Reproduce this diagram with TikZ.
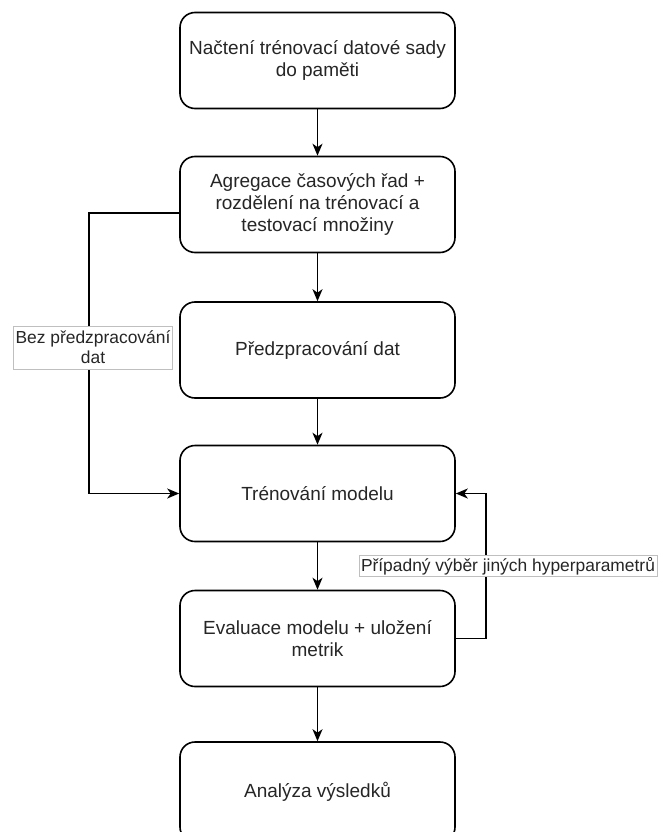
\documentclass[tikz,border=0pt]{standalone}
\usepackage{fontspec}
\setmainfont{Liberation Sans}
\usetikzlibrary{arrows.meta}
\tikzset{
  stepbox/.style={draw=black, line width=1.6pt, rounded corners=15pt, fill=white,
    minimum width=275pt, minimum height=96pt, align=center, inner sep=2pt,
    font=\fontsize{19}{22}\selectfont, text=black!85},
  conn/.style={draw=black, line width=1.6pt, -{Stealth[length=12pt,width=10pt,inset=3.5pt]}},
  lbl/.style={draw=black!25, line width=0.8pt, fill=white, align=center, inner sep=2pt,
    font=\fontsize{17.4}{20}\selectfont, text=black!85}
}
\begin{document}
\begin{tikzpicture}[x=1pt,y=-1pt]
\useasboundingbox (0,0) rectangle (661,832);
\node[stepbox] (b1) at (317.5,60.5) {Načtení trénovací datové sady\\do paměti};
\node[stepbox] (b2) at (317.5,204.5) {Agregace časových řad +\\rozdělení na trénovací a\\testovací množiny};
\node[stepbox] (b3) at (317.5,350) {Předzpracování dat};
\node[stepbox] (b4) at (317.5,493.5) {Trénování modelu};
\node[stepbox] (b5) at (317.5,638.5) {Evaluace modelu + uložení\\metrik};
\node[stepbox, minimum height=100pt] (b6) at (317.5,792) {\raisebox{3pt}{Analýza výsledků}};
\coordinate (L) at (89,493.5);
\coordinate (R) at (486,493.5);
\draw[conn] (b1) -- (b2);
\draw[conn] (b2) -- (b3);
\draw[conn] (b3) -- (b4);
\draw[conn] (b4) -- (b5);
\draw[conn] (b5) -- (b6);
\draw[conn] ([yshift=-8.5pt]b2.west) -| (L) -- (b4.west);
\draw[conn] (b5.east) -| (R) -- (b4.east);
\node[lbl, minimum width=156pt, minimum height=43pt] (lb1) at (93,347.5) {Bez předzpracování\\dat};
\node[lbl, minimum width=298pt, minimum height=20pt] (lb2) at (508,566) {Případný výběr jiných hyperparametrů};
\end{tikzpicture}
\end{document}
